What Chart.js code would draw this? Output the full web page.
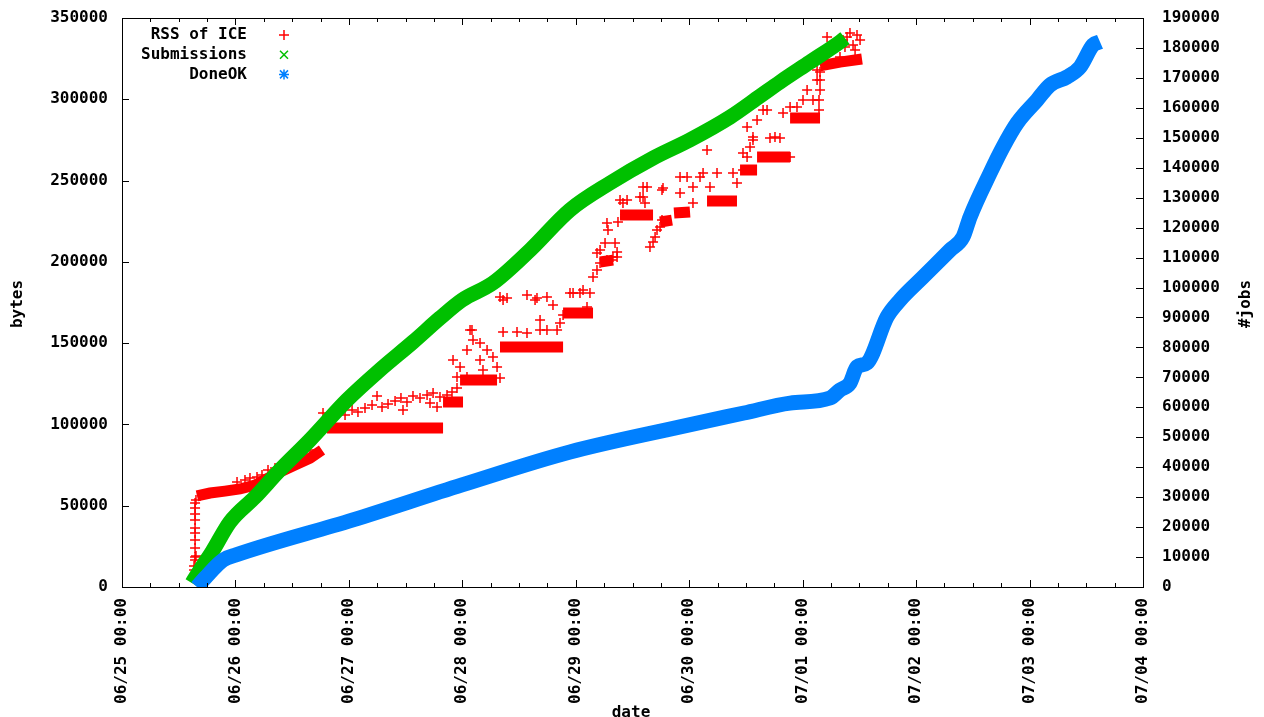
<!DOCTYPE html>
<html>
<head>
<meta charset="utf-8">
<script src="https://cdn.jsdelivr.net/npm/chart.js@4.4.0/dist/chart.umd.min.js"></script>
<style>
  html, body { margin: 0; padding: 0; background: #fff; }
  #wrap { width: 1264px; height: 717px; position: relative; }
</style>
</head>
<body>
<div id="wrap"><canvas id="myChart"></canvas></div>
<script>
// x values are days since 06/25 00:00
var dayLabels = ['06/25 00:00', '06/26 00:00', '06/27 00:00', '06/28 00:00', '06/29 00:00',
                 '06/30 00:00', '07/01 00:00', '07/02 00:00', '07/03 00:00', '07/04 00:00'];

// Submissions (#jobs, right axis)
var submitDay  = [0.617, 0.688, 0.793, 0.952, 1.172, 1.393, 1.657, 1.983, 2.274, 2.565, 2.803, 2.997,
                  3.270, 3.597, 3.949, 4.302, 4.681, 5.007, 5.360, 5.624, 5.800, 6.065, 6.329, 6.373];
var submitJobs = [1300, 5700, 11700, 21700, 30000, 39100, 49100, 62400, 72500, 81800, 89800, 95800,
                  101500, 112500, 125900, 134900, 143200, 149300, 156900, 163900, 168600, 175300, 182000, 183300];

// DoneOK (#jobs, right axis)
var doneDay  = [0.661, 0.732, 0.890, 1.005, 2.036, 2.997, 3.949, 4.910, 5.483, 5.889, 6.241, 6.329, 6.417,
                6.479, 6.567, 6.744, 6.858, 7.061, 7.299, 7.414, 7.475, 7.652, 7.766, 7.890, 8.066, 8.180,
                8.330, 8.445, 8.560, 8.621];
var doneJobs = [0, 3000, 9000, 10700, 22400, 34100, 45100, 53400, 58100, 61400, 63100, 65800, 68100,
                73500, 74800, 90200, 95800, 103500, 112500, 116900, 123500, 138200, 146900, 154900, 162600, 167600,
                170300, 173600, 181000, 182000];

// RSS of ICE (bytes, left axis): single samples
var rssDay = [0.635, 0.635, 0.635, 0.644, 0.644, 0.652, 0.644, 0.644, 0.644, 0.644, 0.644, 0.644, 0.644, 0.644, 0.652,
  1.014, 1.084, 1.128, 1.190, 1.234, 1.287, 1.349, 1.393, 1.481, 1.569, 1.657, 1.772,
  1.834, 1.895, 1.966, 2.028, 2.080, 2.142, 2.204, 2.248, 2.292, 2.345, 2.407, 2.459, 2.477, 2.512, 2.565, 2.627,
  2.689, 2.715, 2.742, 2.777, 2.803, 2.865, 2.909, 2.953,
  2.918, 2.953, 2.980, 3.041, 3.041, 3.068, 3.085, 3.094, 3.156, 3.156, 3.182, 3.218, 3.270, 3.306, 3.332,
  3.332, 3.359, 3.394, 3.570, 3.641, 3.658, 3.746, 3.799, 3.685, 3.359, 3.482, 3.570, 3.685, 3.746, 3.835, 3.861, 3.888,
  3.949, 3.976, 4.037, 4.064, 4.099, 4.125, 4.152, 4.187, 4.214, 4.275, 4.328, 4.187, 4.364, 4.214, 4.258, 4.284,
  4.275, 4.346, 4.364, 4.319, 4.372,
  4.390, 4.416, 4.452, 4.566, 4.593, 4.593, 4.610, 4.628, 4.654, 4.681, 4.699, 4.716, 4.743, 4.760, 4.760, 4.769,
  4.919, 4.919, 4.981, 5.033, 5.033, 5.095, 5.122, 5.157, 5.183, 5.245,
  5.386, 5.421, 5.474, 5.474, 5.510, 5.510, 5.536, 5.562, 5.562, 5.598, 5.651, 5.686, 5.712, 5.756, 5.800,
  5.827, 5.889, 5.889, 5.950, 6.003, 6.039, 6.091, 6.127, 6.127, 6.144, 6.144, 6.153, 6.153, 6.153,
  6.215, 6.329, 6.356, 6.373, 6.391, 6.417, 6.444, 6.462, 6.479, 6.506];
var rssBytes = [7400, 10500, 12900, 16600, 18500, 19100, 24000, 28900, 33200, 36300, 41200, 44900, 48600, 51700, 53500,
  64600, 65800, 67000, 67700, 68900, 72000, 73200, 75000, 78100, 81200, 84300, 107000,
  104000, 107600, 105800, 108900, 107600, 110100, 111900, 117500, 110700, 112600, 114400, 116300, 108900, 113800, 117500, 116300,
  118100, 113200, 119300, 110700, 116900, 118100, 119900, 122400,
  139600, 129200, 135300, 145800, 129200, 158100, 158100, 151900, 150100, 139600, 133500, 145800, 141500, 135300, 128600,
  178400, 176500, 177800, 179600, 176500, 177800, 178400, 173500, 164200, 156900, 156900, 156200, 158100, 158100, 158100, 162400, 167300,
  180800, 180800, 180800, 182700, 172200, 180800, 190700, 195000, 199300, 201100, 203000, 205400, 206100, 207300, 211600, 219600,
  223900, 211600, 203000, 201100, 224500,
  238000, 236200, 238000, 239900, 239900, 246000, 236200, 246000, 209100, 212200, 215300, 219600, 221400, 225700, 244200, 245400,
  252200, 242400, 252200, 246000, 236200, 252200, 254700, 268800, 246000, 254700,
  254700, 248500, 256500, 267000, 264500, 282900, 270600, 276800, 275000, 287300, 293400, 293400, 276200, 276800, 276200,
  291600, 295200, 264500, 295200, 299600, 305700, 299600, 311900, 318000, 293400, 299600, 305700, 311900, 316800,
  338300, 326000, 336500, 332200, 338300, 340800, 333400, 330300, 339500, 336500];

// RSS of ICE: runs of dense samples (null = break between runs)
var rssBandDay = [0.661, 0.776, 0.908, 1.040, 1.172, 1.287, 1.393, 1.525, 1.657, 1.763, 1.763,
  1.807, 2.830, 2.830, 2.830, 3.006, 3.006, 2.980, 3.306, 3.306, 3.332, 3.888, 3.888,
  3.888, 4.152, 4.152, 4.214, 4.328, 4.328, 4.390, 4.681, 4.681, 4.743, 4.848, 4.848,
  4.866, 5.007, 5.007, 5.157, 5.421, 5.421, 5.448, 5.598, 5.598, 5.598, 5.889, 5.889,
  5.889, 6.153, 6.153, 6.153, 6.329, 6.523];
var rssBandBytes = [56000, 57800, 59000, 60300, 62700, 67000, 70700, 75000, 79300, 84300, null,
  97800, 97800, null, 113800, 113800, null, 127300, 127300, null, 147600, 147600, null,
  168500, 168500, null, 199900, 201100, null, 228800, 228800, null, 224500, 225700, null,
  230000, 230700, null, 237400, 237400, null, 256500, 256500, null, 264500, 264500, null,
  288500, 288500, null, 320500, 322900, 324800];

var FONT = 'bold 16px "DejaVu Sans Mono"';
var RED = '#ff0000', GREEN = '#00c000', BLUE = '#0080ff';

function pairs(xs, ys) {
  return xs.map(function(x, i) { return { x: x, y: ys[i] }; });
}

var gnuplotLook = {
  id: 'gnuplotLook',
  afterDraw: function(chart) {
    var ctx = chart.ctx, a = chart.chartArea;
    var xs = chart.scales.x, yl = chart.scales.y, yr = chart.scales.y2;
    ctx.save();
    ctx.strokeStyle = '#000';
    ctx.lineWidth = 1;
    ctx.strokeRect(a.left + 0.5, a.top + 0.5, a.right - a.left, a.bottom - a.top);
    ctx.beginPath();
    xs.ticks.forEach(function(t) {
      var px = Math.round(xs.getPixelForValue(t.value)) + 0.5;
      var len = Number.isInteger(t.value) ? 7 : 4;
      ctx.moveTo(px, a.bottom); ctx.lineTo(px, a.bottom - len);
      ctx.moveTo(px, a.top); ctx.lineTo(px, a.top + len);
    });
    yl.ticks.forEach(function(t) {
      var py = Math.round(yl.getPixelForValue(t.value)) + 0.5;
      ctx.moveTo(a.left, py); ctx.lineTo(a.left + 7, py);
    });
    yr.ticks.forEach(function(t) {
      var py = Math.round(yr.getPixelForValue(t.value)) + 0.5;
      ctx.moveTo(a.right, py); ctx.lineTo(a.right - 7, py);
    });
    ctx.stroke();

    // axis titles
    ctx.fillStyle = '#000';
    ctx.font = FONT;
    ctx.textAlign = 'center';
    ctx.textBaseline = 'middle';
    ctx.save();
    ctx.translate(18, 304); ctx.rotate(-Math.PI / 2); ctx.fillText('bytes', 0, 0);
    ctx.restore();
    ctx.save();
    ctx.translate(1246, 304); ctx.rotate(-Math.PI / 2); ctx.fillText('#jobs', 0, 0);
    ctx.restore();
    ctx.textBaseline = 'top';
    ctx.fillText('date', 631, 705);

    // key
    var names = ['RSS of ICE', 'Submissions', 'DoneOK'];
    var cols = [RED, GREEN, BLUE];
    ctx.textAlign = 'right';
    ctx.textBaseline = 'middle';
    names.forEach(function(n, i) {
      var y = 35 + i * 19.7;
      ctx.fillStyle = '#000';
      ctx.fillText(n, 247, y);
      var x = 284;
      ctx.strokeStyle = cols[i];
      ctx.lineWidth = 1.5;
      ctx.beginPath();
      if (i !== 1) { ctx.moveTo(x - 5, y); ctx.lineTo(x + 5, y); ctx.moveTo(x, y - 5); ctx.lineTo(x, y + 5); }
      if (i !== 0) { ctx.moveTo(x - 4, y - 4); ctx.lineTo(x + 4, y + 4); ctx.moveTo(x - 4, y + 4); ctx.lineTo(x + 4, y - 4); }
      ctx.stroke();
    });
    ctx.restore();
  }
};

// y axes: fixed widths, and no label overhang added on top of the plot
function fitY(w) {
  return function(s) { s.width = w; s.paddingTop = 10; s.paddingBottom = 10; };
}

var ctx = document.getElementById('myChart');
var rssChart = new Chart(ctx, {
  type: 'line',
  data: {
    datasets: [{
      label: 'DoneOK',
      data: pairs(doneDay, doneJobs),
      yAxisID: 'y2',
      borderColor: BLUE,
      borderWidth: 15,
      borderJoinStyle: 'round',
      cubicInterpolationMode: 'monotone',
      pointRadius: 0,
      order: 0
    }, {
      label: 'Submissions',
      data: pairs(submitDay, submitJobs),
      yAxisID: 'y2',
      borderColor: GREEN,
      borderWidth: 15,
      borderJoinStyle: 'round',
      cubicInterpolationMode: 'monotone',
      pointRadius: 0,
      order: 1
    }, {
      label: 'RSS of ICE',
      data: pairs(rssDay, rssBytes),
      yAxisID: 'y',
      showLine: false,
      pointStyle: 'cross',
      pointRadius: 5,
      pointBorderWidth: 1.5,
      pointBorderColor: RED,
      pointBackgroundColor: RED,
      order: 2
    }, {
      label: 'RSS of ICE (runs)',
      data: pairs(rssBandDay, rssBandBytes),
      yAxisID: 'y',
      borderColor: RED,
      borderWidth: 11,
      borderCapStyle: 'butt',
      pointRadius: 0,
      spanGaps: false,
      order: 3
    }]
  },
  options: {
    responsive: true,
    maintainAspectRatio: false,
    animation: false,
    events: [],
    layout: { padding: { top: 18, left: 0, right: 0, bottom: 0 } },
    plugins: { legend: { display: false }, tooltip: { enabled: false } },
    scales: {
      x: {
        type: 'linear', min: 0, max: 9,
        grid: { display: false, drawTicks: false },
        border: { display: false },
        ticks: {
          stepSize: 0.25, autoSkip: false, minRotation: 90, maxRotation: 90,
          padding: 11, color: '#000', font: { family: 'DejaVu Sans Mono', size: 16, weight: 'bold' },
          callback: function(v) { return Number.isInteger(v) ? dayLabels[v] : ''; }
        },
        afterFit: function(s) { s.height = 130; }
      },
      y: {
        position: 'left', min: 0, max: 350000,
        grid: { display: false, drawTicks: false },
        border: { display: false },
        ticks: {
          stepSize: 50000, padding: 14, color: '#000',
          font: { family: 'DejaVu Sans Mono', size: 16, weight: 'bold' },
          callback: function(v) { return String(v); }
        },
        afterFit: fitY(122)
      },
      y2: {
        axis: 'y', position: 'right', min: 0, max: 190000,
        grid: { display: false, drawTicks: false },
        border: { display: false },
        ticks: {
          stepSize: 10000, padding: 19, color: '#000',
          font: { family: 'DejaVu Sans Mono', size: 16, weight: 'bold' },
          callback: function(v) { return String(v); }
        },
        afterFit: fitY(121)
      }
    }
  },
  plugins: [gnuplotLook]
});
</script>
</body>
</html>
